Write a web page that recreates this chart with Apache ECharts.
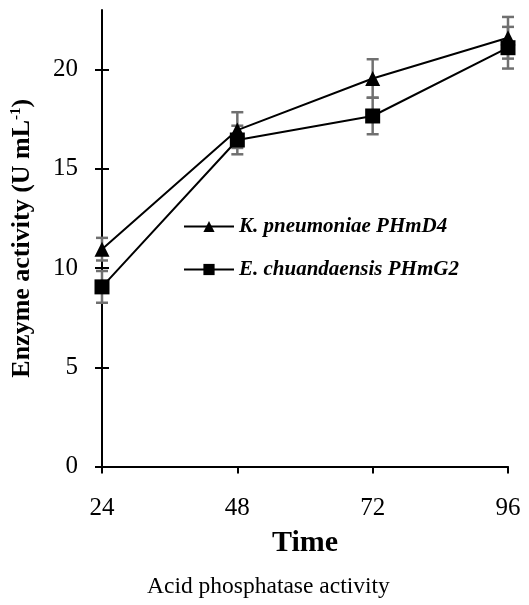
<!DOCTYPE html>
<html>
<head>
<meta charset="utf-8">
<script src="https://cdn.jsdelivr.net/npm/echarts@6/dist/echarts.min.js"></script>
<style>
  html, body { margin: 0; padding: 0; background: #fff; }
  #chart { width: 529px; height: 605px; }
</style>
</head>
<body>
<div id="chart"></div>
<script>
// time (h)
const hours = ['24', '48', '72', '96'];
const yTicks = [0, 5, 10, 15, 20];

// K. pneumoniae PHmD4
const kpMean = [10.95, 16.95, 19.55, 21.6];
const kpErr = [0.57, 0.9, 0.97, 1.05];
// E. chuandaensis PHmG2
const ecMean = [9.05, 16.45, 17.66, 21.1];
const ecErr = [0.8, 0.72, 0.92, 1.05];

const serif = '"Liberation Serif", "Times New Roman", serif';

const errData = (mean, err) => mean.map((m, i) => [i, m - err[i], m + err[i]]);

// draws the gray error bars with caps
const renderErr = (params, api) => {
  const lo = api.coord([api.value(0), api.value(1)]);
  const hi = api.coord([api.value(0), api.value(2)]);
  const half = 6;
  const style = { stroke: '#707070', lineWidth: 2.5 };
  return {
    type: 'group',
    children: [
      { type: 'line', shape: { x1: lo[0], y1: lo[1], x2: hi[0], y2: hi[1] }, style },
      { type: 'line', shape: { x1: lo[0] - half, y1: lo[1], x2: lo[0] + half, y2: lo[1] }, style },
      { type: 'line', shape: { x1: hi[0] - half, y1: hi[1], x2: hi[0] + half, y2: hi[1] }, style }
    ]
  };
};

const myChart = echarts.init(document.getElementById('chart'));

const option = {
  animation: false,
  grid: { left: 102, right: 21, top: 10, bottom: 138.5 },
  legend: {
    orient: 'vertical',
    left: 183,
    top: 216,
    padding: 0,
    itemWidth: 50,
    itemHeight: 14,
    itemGap: 22,
    data: ['K. pneumoniae PHmD4', 'E. chuandaensis PHmG2'],
    textStyle: {
      fontFamily: serif,
      fontSize: 21,
      fontWeight: 'bold',
      fontStyle: 'italic',
      color: '#000'
    }
  },
  graphic: [
    {
      type: 'text',
      left: 147,
      top: 575,
      style: {
        text: 'Acid phosphatase activity',
        font: '23.5px ' + serif,
        fill: '#000'
      }
    }
  ],
  xAxis: [
    {
      type: 'category',
      data: hours,
      boundaryGap: false,
      name: 'Time',
      nameLocation: 'middle',
      nameGap: 62,
      nameTextStyle: { fontFamily: serif, fontSize: 30, fontWeight: 'bold', color: '#000' },
      axisLine: { lineStyle: { color: '#000', width: 2 } },
      axisTick: { alignWithLabel: true, length: 7, lineStyle: { color: '#000', width: 2 } },
      axisLabel: { margin: 29, fontFamily: serif, fontSize: 25, color: '#000' },
      splitLine: { show: false }
    },
    {
      type: 'category',
      data: hours,
      boundaryGap: false,
      axisLine: { show: false },
      axisTick: { inside: true, alignWithLabel: true, length: 7, lineStyle: { color: '#000', width: 2 } },
      axisLabel: { show: false },
      splitLine: { show: false }
    }
  ],
  yAxis: [
    {
      type: 'value',
      min: 0,
      max: 23,
      name: '{a|Enzyme activity (U mL}{s|-1}{a|)}',
      nameLocation: 'middle',
      nameRotate: 90,
      nameGap: 67,
      nameTextStyle: {
        rich: {
          a: { fontFamily: serif, fontSize: 26, fontWeight: 'bold', color: '#000' },
          s: { fontFamily: serif, fontSize: 15, fontWeight: 'bold', color: '#000', verticalAlign: 'top' }
        }
      },
      axisLine: { show: true, lineStyle: { color: '#000', width: 2 } },
      axisTick: { show: true, customValues: yTicks, length: 7, lineStyle: { color: '#000', width: 2 } },
      axisLabel: { customValues: yTicks, margin: 24, fontFamily: serif, fontSize: 25, color: '#000' },
      splitLine: { show: false }
    },
    {
      type: 'value',
      min: 0,
      max: 23,
      position: 'left',
      axisLine: { show: false },
      axisTick: { show: true, inside: true, customValues: yTicks, length: 7, lineStyle: { color: '#000', width: 2 } },
      axisLabel: { show: false },
      splitLine: { show: false }
    }
  ],
  series: [
    {
      name: 'K. pneumoniae PHmD4 err',
      type: 'custom',
      renderItem: renderErr,
      data: errData(kpMean, kpErr),
      z: 1
    },
    {
      name: 'E. chuandaensis PHmG2 err',
      type: 'custom',
      renderItem: renderErr,
      data: errData(ecMean, ecErr),
      z: 1
    },
    {
      name: 'K. pneumoniae PHmD4',
      type: 'line',
      data: kpMean,
      symbol: 'triangle',
      symbolSize: 15,
      itemStyle: { color: '#000' },
      lineStyle: { color: '#000', width: 2 },
      z: 3
    },
    {
      name: 'E. chuandaensis PHmG2',
      type: 'line',
      data: ecMean,
      symbol: 'rect',
      symbolSize: 15,
      itemStyle: { color: '#000' },
      lineStyle: { color: '#000', width: 2 },
      z: 3
    }
  ]
};

option && myChart.setOption(option);
</script>
</body>
</html>
